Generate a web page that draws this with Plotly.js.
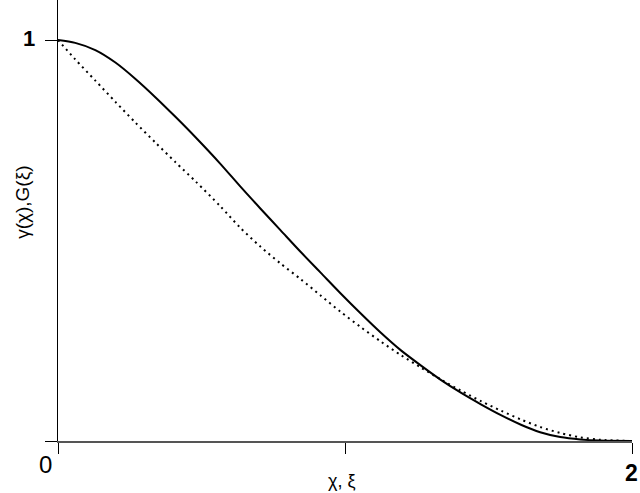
<!DOCTYPE html>
<html>
<head>
<meta charset="utf-8">
<script src="https://cdn.plot.ly/plotly-3.0.1.min.js"></script>
<style>
  html, body { margin: 0; padding: 0; background: #fff; }
  #chart { width: 640px; height: 493px; }
</style>
</head>
<body>
<div id="chart"></div>
<script>
// values
var xVals = [0, 0.06, 0.13, 0.2, 0.27, 0.34, 0.41, 0.48, 0.565, 0.635, 0.705, 0.775, 0.845, 0.915, 0.985,
             1.055, 1.125, 1.195, 1.265, 1.335, 1.405, 1.475, 1.545, 1.615, 1.68, 1.75, 1.82, 1.89, 2.0];
var gammaVals = [1.000, 0.993, 0.975, 0.944, 0.903, 0.857, 0.808, 0.757, 0.692, 0.635, 0.580, 0.526, 0.472, 0.420, 0.368,
                 0.318, 0.270, 0.226, 0.188, 0.152, 0.120, 0.091, 0.064, 0.040, 0.022, 0.010, 0.004, 0.001, 0];
var gVals = [1.000, 0.952, 0.899, 0.846, 0.794, 0.744, 0.695, 0.647, 0.586, 0.532, 0.485, 0.443, 0.404, 0.363, 0.322,
             0.284, 0.248, 0.214, 0.183, 0.153, 0.125, 0.099, 0.075, 0.053, 0.035, 0.020, 0.009, 0.003, 0];
var xTickVals = [0, 1, 2];
var yTickVals = [0, 1];

var font = 'Liberation Sans, Arial, sans-serif';

var gammaTrace = {
  x: xVals,
  y: gammaVals,
  mode: 'lines',
  line: {color: '#000', width: 2, shape: 'spline', smoothing: 0.8},
  hoverinfo: 'skip'
};

var gTrace = {
  x: xVals,
  y: gVals,
  mode: 'lines',
  line: {color: '#000', width: 2, dash: '2px,4px', shape: 'spline', smoothing: 0.8},
  hoverinfo: 'skip'
};

var layout = {
  width: 640,
  height: 493,
  margin: {l: 58, r: 8, t: 0, b: 52},
  paper_bgcolor: '#fff',
  plot_bgcolor: '#fff',
  showlegend: false,
  xaxis: {
    range: [0, 2],
    tickvals: xTickVals,
    showticklabels: false,
    ticks: 'outside',
    ticklen: 11,
    tickcolor: '#000',
    tickwidth: 1,
    showgrid: false,
    zeroline: false,
    showline: true,
    linecolor: '#555',
    linewidth: 1.5
  },
  yaxis: {
    range: [0, 1.1],
    tickvals: yTickVals,
    showticklabels: false,
    ticks: 'outside',
    ticklen: 12,
    tickcolor: '#000',
    tickwidth: 1,
    showgrid: false,
    zeroline: false,
    showline: true,
    linecolor: '#000',
    linewidth: 1
  },
  annotations: [
    {x: 0, y: 1, text: '1', showarrow: false, xanchor: 'right', yanchor: 'middle',
     xshift: -21, yshift: 2, font: {family: font, size: 22, color: '#000', weight: 'bold'}},
    {x: 0, y: 0, text: '0', showarrow: false, xanchor: 'center', yanchor: 'middle',
     xshift: -13, yshift: -23, font: {family: font, size: 24, color: '#000'}},
    {x: 2, y: 0, text: '2', showarrow: false, xanchor: 'right', yanchor: 'middle',
     xshift: 8, yshift: -32, font: {family: font, size: 23, color: '#000', weight: 'bold'}},
    {x: 1, y: 0, text: 'χ, ξ', showarrow: false, xanchor: 'center', yanchor: 'middle',
     xshift: -3, yshift: -40, font: {family: font, size: 18, color: '#000'}},
    {x: 0, y: 0.594, text: 'γ(χ),G(ξ)', showarrow: false, textangle: -90, xanchor: 'center', yanchor: 'middle',
     xshift: -35, font: {family: font, size: 19, color: '#000'}}
  ]
};

Plotly.newPlot('chart', [gammaTrace, gTrace], layout, {staticPlot: true, displayModeBar: false});
</script>
</body>
</html>
